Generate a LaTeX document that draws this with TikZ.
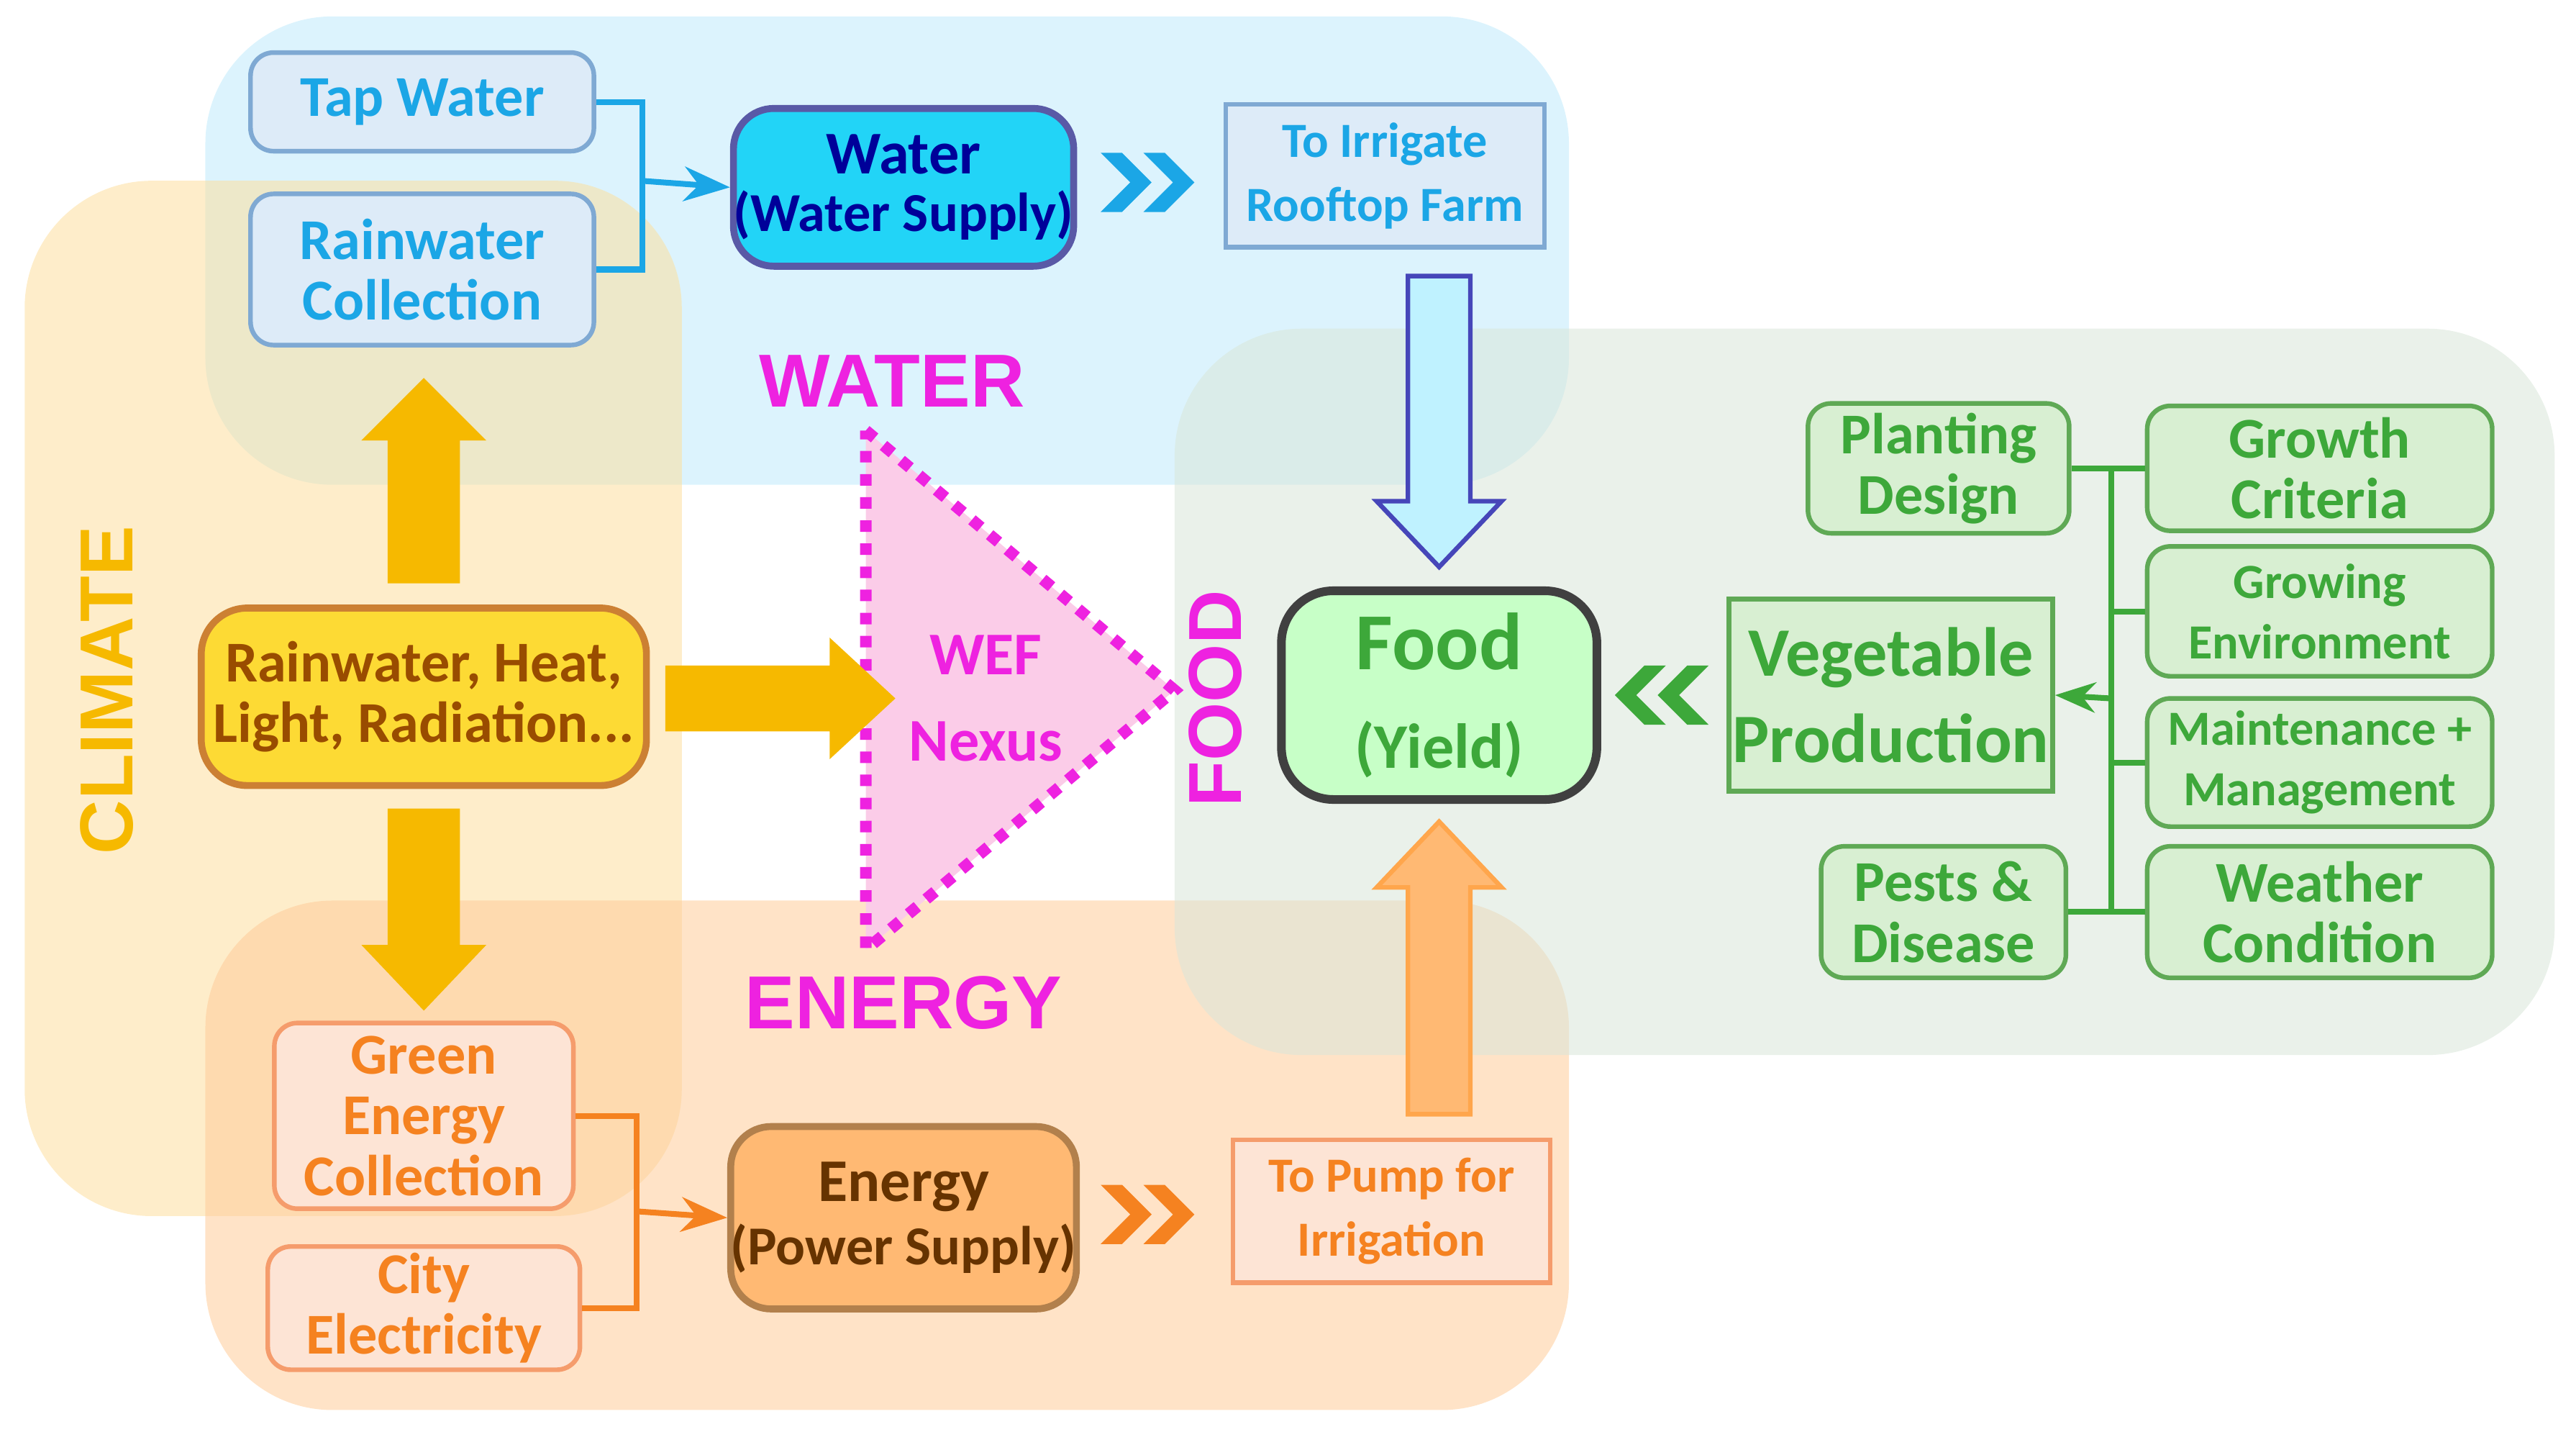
\documentclass[tikz,border=0pt]{standalone}
\usepackage{fontspec}
\setmainfont{Carlito}
\newfontfamily\arialf{Liberation Sans}
\usetikzlibrary{arrows.meta}
\definecolor{wtxt}{HTML}{1BA6E6}
\definecolor{wfill}{HTML}{DDEBF8}
\definecolor{wbord}{HTML}{7FA9D3}
\definecolor{gtxt}{HTML}{3DA83A}
\definecolor{gfill}{HTML}{D8EFD2}
\definecolor{gbord}{HTML}{5FA955}
\definecolor{otxt}{HTML}{F58220}
\definecolor{ofill}{HTML}{FDE4D5}
\definecolor{obord}{HTML}{F59C6C}
\definecolor{yarr}{HTML}{F6B900}
\definecolor{mag}{HTML}{EE22E0}
\definecolor{wsup}{HTML}{22D4F7}
\begin{document}
\begin{tikzpicture}[x=0.01cm,y=-0.01cm,
 sz/.style 2 args={minimum width=#1*0.01cm,minimum height=#2*0.01cm},
 box/.style={draw,rounded corners=4pt,line width=0.8pt,align=center,font=\bfseries\fontsize{10}{10.5}\selectfont,inner sep=0pt},
 wbox/.style={box,fill=wfill,draw=wbord,text=wtxt},
 gbox/.style={box,fill=gfill,draw=gbord,text=gtxt},
 obox/.style={box,fill=ofill,draw=obord,text=otxt},
 region/.style={rounded corners=22pt,fill opacity=0.55},
 wline/.style={draw=wtxt,line width=1pt},
 gline/.style={draw=gtxt,line width=1pt},
 oline/.style={draw=otxt,line width=1pt},
 bigtitle/.style={font=\arialf\bfseries\fontsize{13}{14}\selectfont,text=mag}]
\useasboundingbox (0,0) rectangle (1568,871);
% regions
\fill[region,fill=cyan!25] (125,10) rectangle (955,295);
\fill[region,fill=yellow!35!orange!35] (15,110) rectangle (415,740);
\fill[region,fill=orange!40] (125,548) rectangle (955,858);
\fill[region,fill=green!20!gray!25] (715,200) rectangle (1555,642);
% triangle
\fill[fill=magenta!20] (527,262) -- (715,420) -- (527,578) -- cycle;
\draw[mag,line width=2pt,dotted] (527,262) -- (715,420) -- (527,578) -- cycle;
\node[text=mag,font=\bfseries\fontsize{10.5}{13}\selectfont,align=center] (wef) at (600,425) {WEF\\[2pt]Nexus};
\node[bigtitle] (wt) at (543,232) {WATER};
\node[bigtitle] (et) at (550,610) {ENERGY};
\node[bigtitle,rotate=90] (ft) at (740,425) {FOOD};
\node[font=\arialf\bfseries\fontsize{13}{14}\selectfont,text=yarr,rotate=90] (ct) at (65,420) {CLIMATE};
% water nodes
\node[wbox,sz={209}{60}] (tap) at (257,62) {Tap Water};
\node[wbox,sz={209}{92}] (rain) at (257,164) {Rainwater\\Collection};
\node[box,fill=wsup,draw=blue!30!gray,line width=1.2pt,text=blue!60!black,sz={200}{96},rounded corners=7pt,font=\bfseries\fontsize{9.5}{10}\selectfont] (water) at (550,114) {{\fontsize{10.5}{10}\selectfont Water}\\(Water Supply)};
\node[wbox,rounded corners=0pt,sz={194}{87},font=\bfseries\fontsize{8.5}{11}\selectfont] (irr) at (843,107) {To Irrigate\\Rooftop Farm};
\draw[wline] (tap.east) -- ++(28,0) |- (rain.east);
\coordinate (wj) at (390,110);
\draw[wline,-{Stealth[length=8pt]}] (wj) -- (water.west);
\foreach \d in {0,26} \fill[wtxt,shift={(670+\d,93)}] (0,0) -- (13,0) -- (31,18) -- (13,36) -- (0,36) -- (18,18) -- cycle;
% energy nodes
\node[obox,sz={182}{113}] (green) at (258,679) {Green\\Energy\\Collection};
\node[obox,sz={190}{75}] (city) at (258,796) {City\\Electricity};
\node[box,fill=orange!55!white,draw=gray!60!orange,line width=1.2pt,text=orange!40!black,sz={200}{111},rounded corners=7pt,font=\bfseries\fontsize{9.5}{11}\selectfont] (energy) at (550,741) {{\fontsize{10.5}{11}\selectfont Energy}\\(Power Supply)};
\node[obox,rounded corners=0pt,sz={193}{87},font=\bfseries\fontsize{8.5}{11}\selectfont] (pump) at (847,737) {To Pump for\\Irrigation};
\draw[oline] (green.east) -- ++(37,0) |- (city.east);
\coordinate (ej) at (386,737);
\draw[oline,-{Stealth[length=8pt]}] (ej) -- (energy.west);
\foreach \d in {0,26} \fill[otxt,shift={(670+\d,721)}] (0,0) -- (13,0) -- (31,18) -- (13,36) -- (0,36) -- (18,18) -- cycle;
% climate
\node[box,fill=yellow!70!orange!80,draw=orange!60!gray,line width=1.2pt,text=orange!60!black,sz={271}{108},rounded corners=8pt] (clim) at (258,424) {Rainwater, Heat,\\Light, Radiation...};
% yellow arrows
\fill[yarr] (236,355) -- (236,268) -- (220,268) -- (258,230) -- (296,268) -- (280,268) -- (280,355) -- cycle;
\fill[yarr] (236,492) -- (236,575) -- (220,575) -- (258,615) -- (296,575) -- (280,575) -- (280,492) -- cycle;
\fill[yarr] (405,405) -- (505,405) -- (505,388) -- (545,425) -- (505,462) -- (505,445) -- (405,445) -- cycle;
% food
\node[box,fill=green!22,draw=gray!50!black,line width=1.5pt,text=gtxt,sz={192}{127},rounded corners=9pt,font=\bfseries\fontsize{14}{17}\selectfont] (food) at (876,423) {Food\\{\fontsize{11}{14}\selectfont(Yield)}};
\fill[blue!20!cyan!25,draw=blue!45!gray,line width=0.8pt] (857,168) -- (857,305) -- (838,305) -- (876,345) -- (914,305) -- (895,305) -- (895,168) -- cycle;
\fill[orange!55!white,draw=orange!70,line width=0.8pt] (857,678) -- (857,540) -- (838,540) -- (876,500) -- (914,540) -- (895,540) -- (895,678) -- cycle;
\foreach \d in {0,26} \fill[gtxt,shift={(1040-\d,405)}] (0,0) -- (-13,0) -- (-31,18) -- (-13,36) -- (0,36) -- (-18,18) -- cycle;
\node[gbox,rounded corners=0pt,sz={197}{117},font=\bfseries\fontsize{12}{15}\selectfont] (veg) at (1151,423) {Vegetable\\Production};
\node[gbox,sz={159}{79}] (plant) at (1180,285) {Planting\\Design};
\node[gbox,sz={210}{76}] (grow) at (1412,285) {Growth\\Criteria};
\node[gbox,sz={210}{79},font=\bfseries\fontsize{8.5}{10.5}\selectfont] (env) at (1412,372) {Growing\\Environment};
\node[gbox,sz={210}{78},font=\bfseries\fontsize{8.5}{10.5}\selectfont] (maint) at (1412,464) {Maintenance +\\Management};
\node[gbox,sz={149}{80}] (pest) at (1183,555) {Pests \&\\Disease};
\node[gbox,sz={210}{80}] (weat) at (1412,555) {Weather\\Condition};
\coordinate (gt) at (1285,285);
\coordinate (gb) at (1285,555);
\draw[gline] (plant.east) -- (grow.west);
\draw[gline] (pest.east) -- (weat.west);
\draw[gline] (gt) -- (gb);
\draw[gline] (1285,372) -- (env.west);
\draw[gline] (1285,464) -- (maint.west);
\coordinate (gj) at (1285,425);
\draw[gline,-{Stealth[length=7pt]}] (gj) -- (veg.east);
\end{tikzpicture}
\end{document}
